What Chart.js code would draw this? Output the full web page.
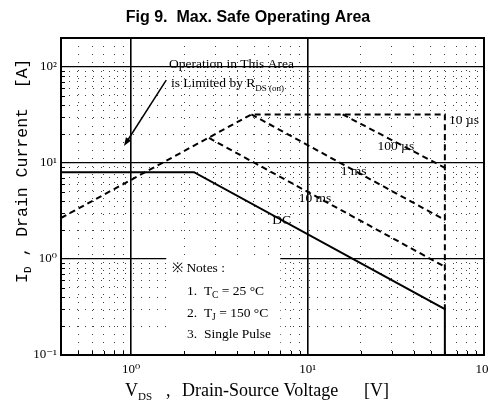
<!DOCTYPE html>
<html>
<head>
<meta charset="utf-8">
<script src="https://cdn.jsdelivr.net/npm/chart.js@4.4.0/dist/chart.umd.min.js"></script>
<style>
  html, body { margin: 0; padding: 0; background: #fff; }
  #wrap { width: 489px; height: 408px; }
</style>
</head>
<body>
<div id="wrap"><canvas id="soa"></canvas></div>
<script>
'use strict';

// axis ticks (log scales)
var xMajorTicks = [1, 10, 100];
var xMinorTicks = [0.5, 0.6, 0.7, 0.8, 0.9, 2, 3, 4, 5, 6, 7, 8, 9, 20, 30, 40, 50, 60, 70, 80, 90];
var yMajorTicks = [0.1, 1, 10, 100];
var yMinorTicks = [0.2, 0.3, 0.4, 0.5, 0.6, 0.7, 0.8, 0.9, 2, 3, 4, 5, 6, 7, 8, 9, 20, 30, 40, 50, 60, 70, 80, 90, 200];
var xTickLabels = ['10\u2070', '10\u00b9', '10\u00b2'];
var yTickLabels = ['10\u207b\u00b9', '10\u2070', '10\u00b9', '10\u00b2'];

// SOA boundaries : V_DS [V] / I_D [A]
var dcVoltage = [0.4, 2.27, 60, 60];
var dcCurrent = [8, 8, 0.3, 0.1];
var us10Voltage = [0.4, 4.8, 60, 60];
var us10Current = [2.67, 32, 32, 0.3];
var us100Voltage = [15.8, 60];
var us100Current = [32, 8.9];
var ms1Voltage = [4.8, 60];
var ms1Current = [32, 2.55];
var ms10Voltage = [2.76, 60];
var ms10Current = [18.2, 0.83];

var SERIF = '"Liberation Serif", "DejaVu Serif", serif';
var MONO = '"Liberation Mono", "DejaVu Sans Mono", monospace';

function toPoints(xs, ys) {
    return xs.map(function(x, i) { return {x: x, y: ys[i]}; });
}

function isMajor(list, value) {
    for (var i = 0; i < list.length; i++) {
        if (Math.abs(list[i] - value) < 1e-9) return true;
    }
    return false;
}

function lineSet(label, xs, ys, dashed) {
    return {
        label: label,
        data: toPoints(xs, ys),
        showLine: true,
        borderColor: '#000',
        borderWidth: 2,
        borderDash: dashed ? [6, 4] : [],
        pointRadius: 0,
        fill: false,
        tension: 0
    };
}

// text made of pieces, some of them subscripts
function drawParts(ctx, parts, x, y) {
    var cx = x;
    parts.forEach(function(p) {
        ctx.font = p.font;
        if (p.at !== undefined) cx = p.at;
        ctx.fillText(p.t, cx, y + (p.dy || 0));
        cx += ctx.measureText(p.t).width;
    });
}

var soaPlugin = {
    id: 'soaDecor',
    beforeDatasetsDraw: function(chart) {
        var ctx = chart.ctx, xs = chart.scales.x, ys = chart.scales.y;
        // notes box hides the grid behind it
        ctx.save();
        ctx.fillStyle = '#fff';
        var l = xs.getPixelForValue(1.58), r = xs.getPixelForValue(7.0);
        var t = ys.getPixelForValue(1.1), b = ys.getPixelForValue(0.107);
        ctx.fillRect(l, t, r - l, b - t);
        ctx.restore();
    },
    afterDraw: function(chart) {
        var ctx = chart.ctx, xs = chart.scales.x, ys = chart.scales.y;
        var area = chart.chartArea;
        var px = function(v) { return xs.getPixelForValue(v); };
        var py = function(v) { return ys.getPixelForValue(v); };

        ctx.save();
        ctx.fillStyle = '#000';
        ctx.strokeStyle = '#000';

        // frame
        ctx.lineWidth = 2;
        ctx.strokeRect(area.left, area.top, area.right - area.left, area.bottom - area.top);

        // small inward ticks
        ctx.lineWidth = 1;
        ctx.beginPath();
        xMinorTicks.forEach(function(v) {
            var x = Math.round(px(v)) + 0.5;
            ctx.moveTo(x, area.bottom);
            ctx.lineTo(x, area.bottom - 4);
        });
        yMinorTicks.forEach(function(v) {
            var y = Math.round(py(v)) + 0.5;
            ctx.moveTo(area.left, y);
            ctx.lineTo(area.left + 4, y);
        });
        ctx.stroke();

        // title
        ctx.textAlign = 'center';
        ctx.textBaseline = 'alphabetic';
        ctx.font = 'bold 16px "Liberation Sans", Arial, sans-serif';
        ctx.fillText('Fig 9.  Max. Safe Operating Area', 248, 22);

        ctx.textAlign = 'left';

        // x axis title
        var xf = '18px ' + SERIF;
        drawParts(ctx, [
            {t: 'V', font: xf},
            {t: 'DS', font: '11px ' + SERIF, dy: 4},
            {t: ',', font: xf, at: 166},
            {t: 'Drain-Source Voltage', font: xf, at: 182},
            {t: '[V]', font: xf, at: 364}
        ], 125, 396);

        // y axis title
        ctx.save();
        ctx.translate(27, 283);
        ctx.rotate(-Math.PI / 2);
        drawParts(ctx, [
            {t: 'I', font: '16.5px ' + MONO},
            {t: 'D', font: '11px ' + MONO, dy: 4},
            {t: ' , Drain Current  [A]', font: '16.5px ' + MONO}
        ], 0, 0);
        ctx.restore();

        // R_DS(on) note + arrow
        var af = '13.5px ' + SERIF;
        drawParts(ctx, [{t: 'Operation in This Area', font: af}], px(1.64), py(100) + 1);
        drawParts(ctx, [
            {t: 'is Limited by R', font: af},
            {t: 'DS (on)', font: '9px ' + SERIF, dy: 4}
        ], px(1.68), py(62));

        var ax0 = px(1.58), ay0 = py(73), ax1 = px(0.91), ay1 = py(15);
        var ang = Math.atan2(ay1 - ay0, ax1 - ax0);
        ctx.lineWidth = 1.5;
        ctx.beginPath();
        ctx.moveTo(ax0, ay0);
        ctx.lineTo(ax1 - 6 * Math.cos(ang), ay1 - 6 * Math.sin(ang));
        ctx.stroke();
        ctx.beginPath();
        ctx.moveTo(ax1, ay1);
        ctx.lineTo(ax1 - 9 * Math.cos(ang - 0.35), ay1 - 9 * Math.sin(ang - 0.35));
        ctx.lineTo(ax1 - 9 * Math.cos(ang + 0.35), ay1 - 9 * Math.sin(ang + 0.35));
        ctx.closePath();
        ctx.fill();

        // curve labels
        ctx.textBaseline = 'middle';
        ctx.font = af;
        ctx.fillText('10 \u00b5s', px(63.4), py(27.4));
        ctx.fillText('100 \u00b5s', px(24.9), py(14.7));
        ctx.fillText('1 ms', px(15.4), py(8.06));
        ctx.fillText('10 ms', px(8.9), py(4.3));
        ctx.fillText('DC', px(6.3), py(2.5));

        // notes
        ctx.textBaseline = 'alphabetic';
        var nf = '13.5px ' + SERIF, sf = '9.5px ' + SERIF;
        drawParts(ctx, [{t: '\u203b Notes :', font: nf}], 172, 272);
        drawParts(ctx, [{t: '1.  T', font: nf}, {t: 'C', font: sf, dy: 3}, {t: ' = 25 \u00b0C', font: nf}], 187, 295);
        drawParts(ctx, [{t: '2.  T', font: nf}, {t: 'J', font: sf, dy: 3}, {t: ' = 150 \u00b0C', font: nf}], 187, 317);
        drawParts(ctx, [{t: '3.  Single Pulse', font: nf}], 187, 338);

        ctx.restore();
    }
};

var allX = xMajorTicks.concat(xMinorTicks).sort(function(a, b) { return a - b; });
var allY = yMajorTicks.concat(yMinorTicks).sort(function(a, b) { return a - b; });

Chart.defaults.font.family = SERIF;
Chart.defaults.color = '#000';

new Chart(document.getElementById('soa'), {
    type: 'scatter',
    data: {
        datasets: [
            lineSet('DC', dcVoltage, dcCurrent, false),
            lineSet('10 us', us10Voltage, us10Current, true),
            lineSet('100 us', us100Voltage, us100Current, true),
            lineSet('1 ms', ms1Voltage, ms1Current, true),
            lineSet('10 ms', ms10Voltage, ms10Current, true)
        ]
    },
    options: {
        responsive: true,
        maintainAspectRatio: false,
        animation: false,
        layout: { padding: { top: 38, right: 5, left: 0, bottom: 0 } },
        plugins: {
            legend: { display: false },
            tooltip: { enabled: false },
            title: { display: false }
        },
        scales: {
            x: {
                type: 'logarithmic',
                bounds: 'data',
                min: 0.4,
                max: 100,
                afterBuildTicks: function(scale) {
                    scale.ticks = allX.map(function(v) { return {value: v}; });
                },
                afterFit: function(scale) {
                    scale.height = 53;
                    scale.paddingLeft = 0;
                    scale.paddingRight = 0;
                },
                ticks: {
                    autoSkip: false,
                    maxRotation: 0,
                    padding: 7,
                    font: { size: 13 },
                    callback: function(value) {
                        var i = xMajorTicks.indexOf(value);
                        return i >= 0 ? xTickLabels[i] : '';
                    }
                },
                grid: {
                    drawTicks: false,
                    color: function(c) { return isMajor(xMajorTicks, c.tick.value) ? '#000' : 'rgba(0,0,0,0.75)'; },
                    lineWidth: function(c) { return isMajor(xMajorTicks, c.tick.value) ? 1.6 : 1; }
                },
                border: {
                    display: false,
                    dash: function(c) { return isMajor(xMajorTicks, c.tick.value) ? [] : [1, 7]; }
                }
            },
            y: {
                type: 'logarithmic',
                bounds: 'data',
                min: 0.1,
                max: 200,
                afterBuildTicks: function(scale) {
                    scale.ticks = allY.map(function(v) { return {value: v}; });
                },
                afterFit: function(scale) {
                    scale.width = 61;
                    scale.paddingTop = 0;
                    scale.paddingBottom = 0;
                },
                ticks: {
                    autoSkip: false,
                    padding: 4,
                    font: { size: 13 },
                    callback: function(value) {
                        var i = yMajorTicks.indexOf(value);
                        return i >= 0 ? yTickLabels[i] : '';
                    }
                },
                grid: {
                    drawTicks: false,
                    color: function(c) { return isMajor(yMajorTicks, c.tick.value) ? '#000' : 'rgba(0,0,0,0.75)'; },
                    lineWidth: function(c) { return isMajor(yMajorTicks, c.tick.value) ? 1.2 : 1; }
                },
                border: {
                    display: false,
                    dash: function(c) { return isMajor(yMajorTicks, c.tick.value) ? [] : [1, 7]; }
                }
            }
        }
    },
    plugins: [soaPlugin]
});
</script>
</body>
</html>
